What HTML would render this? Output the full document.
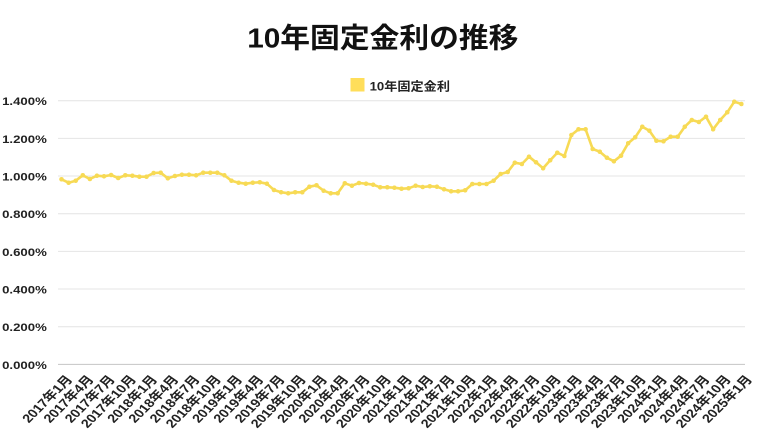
<!DOCTYPE html>
<html><head><meta charset="utf-8"><style>
html,body{margin:0;padding:0;background:#fff;}
svg{display:block;}
text{font-family:"Liberation Sans","Noto Sans CJK JP",sans-serif;}
</style></head><body>
<svg width="768" height="432" viewBox="0 0 768 432" xmlns="http://www.w3.org/2000/svg">
<defs>
<marker id="dot" viewBox="0 0 6 6" refX="3" refY="3" markerWidth="4.6" markerHeight="4.6" markerUnits="userSpaceOnUse"><circle cx="3" cy="3" r="3" fill="#F7DA55"/></marker>
</defs>
<rect width="768" height="432" fill="#fff"/>
<g stroke="#e4e4e4" stroke-width="1">
<line x1="58" x2="745" y1="100.7" y2="100.7"/>
<line x1="58" x2="745" y1="138.4" y2="138.4"/>
<line x1="58" x2="745" y1="176.0" y2="176.0"/>
<line x1="58" x2="745" y1="213.7" y2="213.7"/>
<line x1="58" x2="745" y1="251.4" y2="251.4"/>
<line x1="58" x2="745" y1="289.0" y2="289.0"/>
<line x1="58" x2="745" y1="326.7" y2="326.7"/>
</g>
<line x1="58" x2="745" y1="364.4" y2="364.4" stroke="#c4c4c4" stroke-width="1"/>
<rect x="350.5" y="78" width="14" height="13.5" fill="#FFDE5A"/>
<polyline fill="none" stroke="#F7DA55" stroke-width="2.6" stroke-linejoin="round" marker-start="url(#dot)" marker-mid="url(#dot)" marker-end="url(#dot)" points="61.5,179.3 68.6,182.7 75.7,180.7 82.8,175.3 89.9,179.0 96.9,175.7 104.0,176.3 111.1,175.0 118.2,178.0 125.3,175.3 132.4,175.7 139.4,176.7 146.5,176.7 153.6,173.0 160.7,172.7 167.8,178.3 174.9,176.0 181.9,174.7 189.0,174.7 196.1,175.3 203.2,172.7 210.3,172.7 217.3,172.7 224.4,175.3 231.5,180.7 238.6,182.7 245.7,183.7 252.8,182.7 259.8,182.3 266.9,183.7 274.0,190.0 281.1,192.2 288.2,193.3 295.2,192.3 302.3,192.3 309.4,186.7 316.5,185.3 323.6,190.7 330.7,193.3 337.7,193.3 344.8,183.3 351.9,185.7 359.0,183.0 366.1,183.7 373.2,184.7 380.2,187.3 387.3,187.3 394.4,187.7 401.5,188.7 408.6,188.3 415.6,185.7 422.7,187.0 429.8,186.3 436.9,186.7 444.0,189.3 451.1,191.3 458.1,191.3 465.2,190.3 472.3,184.0 479.4,184.0 486.5,184.0 493.6,180.7 500.6,174.0 507.7,172.0 514.8,162.7 521.9,164.0 529.0,156.7 536.0,162.3 543.1,168.3 550.2,160.3 557.3,152.7 564.4,156.0 571.4,135.0 578.5,129.3 585.6,129.3 592.7,149.0 599.8,151.7 606.9,157.7 613.9,161.3 621.0,155.7 628.1,143.3 635.2,137.3 642.3,126.7 649.4,130.7 656.4,140.7 663.5,141.3 670.6,136.7 677.7,136.7 684.8,126.7 691.8,120.0 698.9,122.0 706.0,116.7 713.1,129.3 720.2,120.0 727.3,112.3 734.3,101.7 741.4,104.0"/>
<g transform="scale(1.2,1)">
<text x="319" y="47.5" font-size="28" font-weight="bold" fill="#111" text-anchor="middle" textLength="226" lengthAdjust="spacingAndGlyphs">10年固定金利の推移</text>
<text x="308" y="90.3" font-size="12" font-weight="bold" fill="#222" textLength="67" lengthAdjust="spacingAndGlyphs">10年固定金利</text>
<g font-size="11" font-weight="bold" fill="#222" text-anchor="end">
<text x="39" y="105.2">1.400%</text>
<text x="39" y="142.9">1.200%</text>
<text x="39" y="180.5">1.000%</text>
<text x="39" y="218.2">0.800%</text>
<text x="39" y="255.9">0.600%</text>
<text x="39" y="293.5">0.400%</text>
<text x="39" y="331.2">0.200%</text>
<text x="39" y="368.9">0.000%</text>
</g>
<g font-size="12" font-weight="bold" fill="#222" text-anchor="end" dominant-baseline="central">
<text transform="translate(57.8,377) rotate(-50)">2017年1月</text>
<text transform="translate(75.5,377) rotate(-50)">2017年4月</text>
<text transform="translate(93.2,377) rotate(-50)">2017年7月</text>
<text transform="translate(110.9,377) rotate(-50)">2017年10月</text>
<text transform="translate(128.6,377) rotate(-50)">2018年1月</text>
<text transform="translate(146.3,377) rotate(-50)">2018年4月</text>
<text transform="translate(164.0,377) rotate(-50)">2018年7月</text>
<text transform="translate(181.7,377) rotate(-50)">2018年10月</text>
<text transform="translate(199.4,377) rotate(-50)">2019年1月</text>
<text transform="translate(217.1,377) rotate(-50)">2019年4月</text>
<text transform="translate(234.8,377) rotate(-50)">2019年7月</text>
<text transform="translate(252.5,377) rotate(-50)">2019年10月</text>
<text transform="translate(270.2,377) rotate(-50)">2020年1月</text>
<text transform="translate(287.9,377) rotate(-50)">2020年4月</text>
<text transform="translate(305.7,377) rotate(-50)">2020年7月</text>
<text transform="translate(323.4,377) rotate(-50)">2020年10月</text>
<text transform="translate(341.1,377) rotate(-50)">2021年1月</text>
<text transform="translate(358.8,377) rotate(-50)">2021年4月</text>
<text transform="translate(376.5,377) rotate(-50)">2021年7月</text>
<text transform="translate(394.2,377) rotate(-50)">2021年10月</text>
<text transform="translate(411.9,377) rotate(-50)">2022年1月</text>
<text transform="translate(429.6,377) rotate(-50)">2022年4月</text>
<text transform="translate(447.3,377) rotate(-50)">2022年7月</text>
<text transform="translate(465.0,377) rotate(-50)">2022年10月</text>
<text transform="translate(482.7,377) rotate(-50)">2023年1月</text>
<text transform="translate(500.4,377) rotate(-50)">2023年4月</text>
<text transform="translate(518.1,377) rotate(-50)">2023年7月</text>
<text transform="translate(535.8,377) rotate(-50)">2023年10月</text>
<text transform="translate(553.5,377) rotate(-50)">2024年1月</text>
<text transform="translate(571.2,377) rotate(-50)">2024年4月</text>
<text transform="translate(588.9,377) rotate(-50)">2024年7月</text>
<text transform="translate(606.6,377) rotate(-50)">2024年10月</text>
<text transform="translate(624.3,377) rotate(-50)">2025年1月</text>
</g>
</g>
</svg>
</body></html>
